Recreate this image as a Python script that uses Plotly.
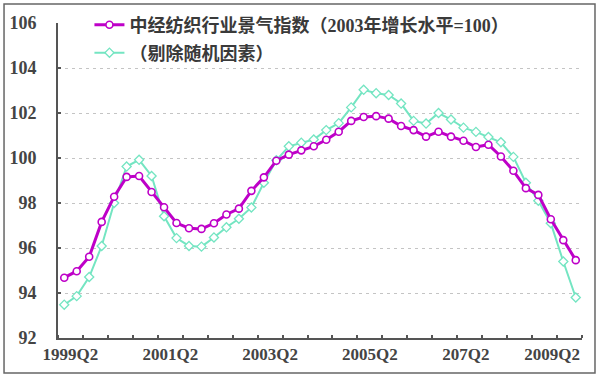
import plotly.graph_objects as go

# quarters 1999Q1 .. 2009Q2 (42 points)
quarters = [f"{y}Q{q}" for y in range(1999, 2010) for q in range(1, 5)][:42]
idx = list(range(len(quarters)))

index_main = [94.68, 94.97, 95.61, 97.16, 98.28, 99.16, 99.20, 98.49, 97.81, 97.11,
              96.88, 96.85, 97.10, 97.49, 97.75, 98.54, 99.14, 99.88, 100.15, 100.34,
              100.52, 100.81, 101.17, 101.65, 101.82, 101.86, 101.75, 101.42, 101.24, 100.95,
              101.17, 100.95, 100.77, 100.49, 100.59, 100.07, 99.43, 98.66, 98.36, 97.28,
              96.35, 95.46]
index_adj = [93.48, 93.86, 94.71, 96.09, 98.0, 99.62, 99.92, 99.20, 97.41, 96.44,
             96.09, 96.06, 96.47, 96.92, 97.30, 97.80, 98.90, 99.90, 100.52, 100.68,
             100.82, 101.24, 101.55, 102.25, 103.03, 102.88, 102.80, 102.42, 101.65, 101.53,
             102.00, 101.71, 101.35, 101.16, 100.93, 100.70, 100.05, 98.90, 98.10, 97.10,
             95.40, 93.80]

name_main = "中经纺织行业景气指数（2003年增长水平=100）"
name_adj = "（剔除随机因素）"
tick_labels = ["1999Q2", "2001Q2", "2003Q2", "2005Q2", "207Q2", "2009Q2"]
y_ticks = [92, 94, 96, 98, 100, 102, 104, 106]

MAG = "#BE00C8"
CYN = "#74E5C2"
font_lat = "Liberation Serif, 'Noto Sans CJK SC', serif"

# paper: width 524 px (x 58..582), height 338 px (y 0..338); plot y domain top at 23 px
H_PAPER = 338.0
def py(px):
    return (H_PAPER - px) / H_PAPER

fig = go.Figure()
fig.add_trace(go.Scatter(
    x=idx, y=index_adj, name=name_adj, mode="lines+markers",
    line=dict(color=CYN, width=2),
    marker=dict(symbol="diamond", size=7, color="white", line=dict(color=CYN, width=1.3)),
    legend="legend2"))
fig.add_trace(go.Scatter(
    x=idx, y=index_main, name=name_main, mode="lines+markers",
    line=dict(color=MAG, width=3),
    marker=dict(symbol="circle", size=7, color="white", line=dict(color=MAG, width=1.6)),
    legend="legend"))

legend_font = dict(family=font_lat, size=18, color="#3a3a3a", weight="bold")
fig.update_layout(
    width=600, height=377,
    margin=dict(l=58, r=18, t=0, b=39, autoexpand=False),
    paper_bgcolor="white", plot_bgcolor="white",
    showlegend=True,
    legend=dict(x=0.060, y=py(25), xanchor="left", yanchor="middle", bgcolor="white",
                font=legend_font, borderwidth=0),
    legend2=dict(x=0.060, y=py(53), xanchor="left", yanchor="middle", bgcolor="rgba(0,0,0,0)",
                 font=legend_font, borderwidth=0),
    xaxis=dict(range=[-0.5, len(quarters) - 0.5], tickmode="array",
               tickvals=[0.5, 8.5, 16.5, 24.5, 32.2, 39.1], ticktext=tick_labels,
               ticks="", showgrid=False, zeroline=False, automargin=False,
               showline=True, linecolor="#555", linewidth=2,
               tickfont=dict(family=font_lat, size=17, color="#444", weight="bold"),
               ticklabelstandoff=0,
               minor=dict(tickmode="linear", tick0=-0.5, dtick=2, ticks="inside",
                          ticklen=3, tickcolor="#555", tickwidth=1.5, showgrid=False)),
    yaxis=dict(range=[92, 106], domain=[0, py(23)], tickmode="array", tickvals=y_ticks,
               ticks="inside", ticklen=3, tickcolor="#555", tickwidth=1.5,
               showline=True, linecolor="#555", linewidth=2, automargin=False,
               showgrid=True, gridcolor="#c4c4c4", gridwidth=1, griddash="3px,4px",
               zeroline=False,
               tickfont=dict(family=font_lat, size=18, color="#444", weight="bold"),
               ticklabelstandoff=16),
    shapes=[dict(type="rect", xref="paper", yref="paper",
                 x0=-0.103, x1=1.0248, y0=py(373), y1=py(4),
                 line=dict(color="#666", width=1.5), fillcolor="rgba(0,0,0,0)",
                 layer="above")],
)

fig.write_html("out.html", config={"displayModeBar": False},
               post_script="document.body.style.margin='0px';document.body.style.overflow='hidden';")
